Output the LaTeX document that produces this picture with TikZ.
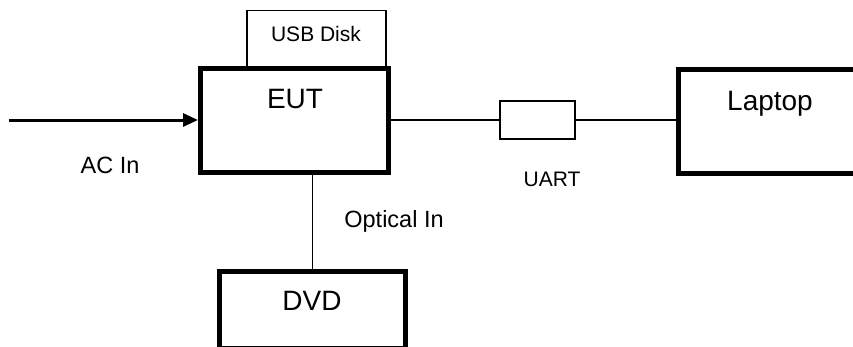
\documentclass[tikz,border=0pt]{standalone}
\usepackage{fontspec}
\setmainfont{Liberation Sans}
\usepackage{tikz}
\usetikzlibrary{arrows.meta}
\newcommand*{\w}{5}

\begin{document}
\begin{tikzpicture}[
   x=1pt, y=-1pt,
   mainbox/.style={rectangle, draw=black, fill=white, line width=\w, inner sep=0},
   thinbox/.style={rectangle, draw=black, fill=white, line width=1.2, inner sep=0},
   wire/.style={draw=black, line width=1.2},
   lbl/.style={anchor=base, inner sep=0, text=black},
   big/.style={lbl, font=\fontsize{28}{30}\selectfont},
   small/.style={lbl, font=\fontsize{21}{23}\selectfont},
   mid/.style={lbl, font=\fontsize{23.5}{25}\selectfont}
  ]

  % Frame
  \clip (0, 0) rectangle (853, 346);
  \fill[white] (0, 0) rectangle (853, 346);

  \node (USB) at (316.5, 39.3) [thinbox, minimum width=139, minimum height=57.3] {};
  \node (EUT) at (294.5, 120) [mainbox, minimum width=188, minimum height=104] {};
  \node (plug) at (537.5, 120) [thinbox, minimum width=75, minimum height=38] {};
  \node (Laptop) at (789, 121) [mainbox, minimum width=222, minimum height=104] {};
  \node (DVD) at (312.5, 309.75) [mainbox, minimum width=186, minimum height=76.5] {};

  \coordinate (acsrc) at (9, 120);

  % Labels
  \node (usbtxt) at (316, 41.7) [small] {USB Disk};
  \node (euttxt) at (295, 108.3) [big] {EUT};
  \node (laptxt) at (770, 110) [big] {Laptop};
  \node (dvdtxt) at (312, 310) [big] {DVD};
  \node (actxt) at (110, 173.3) [mid] {AC In};
  \node (uarttxt) at (552, 186) [small] {UART};
  \node (opttxt) at (394, 227.3) [mid] {Optical In};

  % Connectors
  \draw[-{Triangle[length=15, width=13]}, line width=3] (acsrc) -- (acsrc -| EUT.west);
  \foreach \B/\E in {EUT.east/plug.west, plug.east/Laptop.west} {
    \draw[wire] (\B) -- (\B -| \E);
  }
  \draw[wire] (DVD.north) -- (DVD.north |- EUT.south);

\end{tikzpicture}
\end{document}
